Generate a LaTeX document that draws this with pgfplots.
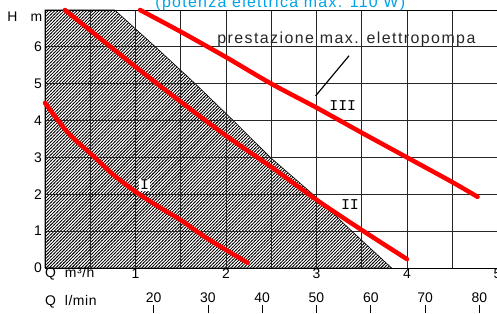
\documentclass[border=0pt]{standalone}
\usepackage{fontspec}
\setmainfont{Liberation Sans}
\newfontfamily\monofont{Liberation Mono}
\usepackage{pgfplots}
\pgfplotsset{compat=1.18}
\usetikzlibrary{patterns}
\pgfdeclarepatternformonly{dense ne lines}{\pgfqpoint{-1pt}{-1pt}}{\pgfqpoint{4.2pt}{4.2pt}}{\pgfqpoint{3.2pt}{3.2pt}}{%
  \pgfsetlinewidth{0.72pt}%
  \pgfpathmoveto{\pgfqpoint{-0.6pt}{-0.6pt}}%
  \pgfpathlineto{\pgfqpoint{3.8pt}{3.8pt}}%
  \pgfusepath{stroke}}
\definecolor{titleblue}{RGB}{0,162,232}
\definecolor{curvered}{RGB}{255,0,0}
\begin{document}
\begin{tikzpicture}
\begin{axis}[
  set layers,
  at={(0,0)}, anchor=south west,
  scale only axis, width=452.5bp, height=258bp,
  xmin=0, xmax=5, ymin=0, ymax=7,
  xtick={1,2,3,4,5}, ytick={0,1,2,3,4,5,6},
  minor xtick={0.5,1.5,2.5,3.5,4.5},
  grid=both,
  major grid style={black!85, line width=0.75pt},
  minor grid style={black!85, line width=0.75pt},
  major tick length=0pt, minor tick length=0pt,
  axis line style={black, line width=0.8pt},
  tick label style={font=\fontsize{14}{14}\selectfont},
  xticklabel style={inner sep=1pt, anchor=north},
  yticklabel style={inner sep=1pt, anchor=east, xshift=-2bp},
  /pgf/number format/assume math mode=true,
  clip=false,
]
% hatched zone (below the grid)
\addplot[on layer=axis background, draw=black, line width=0.6pt, pattern=dense ne lines, pattern color=black]
  coordinates {(0,0) (0,7) (0.77,7) (1.22,6) (1.66,5) (2.08,4) (2.49,3) (2.96,2) (3.39,1) (3.83,0) (0,0)};
% curve I
\addplot[curvered, line width=4.5bp, line cap=round, smooth]
  coordinates {(0,4.48) (0.25,3.68) (0.55,3.0) (0.75,2.54) (1,2.07) (1.25,1.67) (1.5,1.3) (1.75,0.87) (2,0.49) (2.24,0.14)};
% curve II
\addplot[curvered, line width=4.5bp, line cap=round, smooth]
  coordinates {(0.22,7) (1,5.46) (1.5,4.51) (2,3.59) (2.5,2.74) (3,1.85) (3.5,1.03) (4,0.24)};
% curve III
\addplot[curvered, line width=4.5bp, line cap=round, smooth]
  coordinates {(1.05,7) (1.5,6.41) (2,5.72) (2.5,5.0) (3,4.35) (3.5,3.67) (4,3.0) (4.5,2.33) (4.78,1.93)};
% leader line
\draw[black, line width=1.2bp] (axis cs:2.99,4.67) -- (axis cs:3.36,5.76);
% curve labels
\node[font=\monofont\fontsize{15}{15}\selectfont, fill=white, inner sep=1pt] at (axis cs:1.10,2.25) {I};
\node[font=\monofont\fontsize{15}{15}\selectfont, inner sep=1pt] at (axis cs:3.37,1.71) {II};
\node[font=\monofont\fontsize{15}{15}\selectfont, inner sep=1pt] at (axis cs:3.29,4.40) {III};
% annotation
\node[anchor=base, inner sep=0pt, text=black!85, font=\fontsize{16}{16}\selectfont\addfontfeature{LetterSpace=9}] at (axis cs:3.33,6.10) {prestazione max. elettropompa};
% title (partly cut off)
\node[anchor=base, inner sep=0pt, text=titleblue, font=\fontsize{16}{16}\selectfont\addfontfeature{LetterSpace=8}] at (axis cs:2.60,7.08) {(potenza elettrica max. 110 W)};
% axis names
\node[anchor=base, inner sep=0pt, font=\fontsize{14}{14}\selectfont] at (axis cs:-0.359,6.68) {H};
\node[anchor=base, inner sep=0pt, font=\fontsize{14}{14}\selectfont] at (axis cs:-0.094,6.68) {m};
\node[anchor=west, inner sep=0pt, font=\fontsize{14}{14}\selectfont\addfontfeature{LetterSpace=4}] at (axis cs:0,-0.16) {Q\ \ m³/h};
\node[anchor=west, inner sep=0pt, font=\fontsize{14}{14}\selectfont\addfontfeature{LetterSpace=4}] at (axis cs:0,-0.92) {Q\ \ l/min};
% secondary scale (l/min)
\node[inner sep=0pt, font=\fontsize{14}{14}\selectfont] at (axis cs:1.2,-0.81) {20};
\node[inner sep=0pt, font=\fontsize{14}{14}\selectfont] at (axis cs:1.8,-0.81) {30};
\node[inner sep=0pt, font=\fontsize{14}{14}\selectfont] at (axis cs:2.4,-0.81) {40};
\node[inner sep=0pt, font=\fontsize{14}{14}\selectfont] at (axis cs:3.0,-0.81) {50};
\node[inner sep=0pt, font=\fontsize{14}{14}\selectfont] at (axis cs:3.6,-0.81) {60};
\node[inner sep=0pt, font=\fontsize{14}{14}\selectfont] at (axis cs:4.2,-0.81) {70};
\node[inner sep=0pt, font=\fontsize{14}{14}\selectfont] at (axis cs:4.8,-0.81) {80};
\draw[black, line width=0.8bp] (axis cs:1.2,-1.0) -- (axis cs:1.2,-1.22);
\draw[black, line width=0.8bp] (axis cs:1.8,-1.0) -- (axis cs:1.8,-1.22);
\draw[black, line width=0.8bp] (axis cs:2.4,-1.0) -- (axis cs:2.4,-1.22);
\draw[black, line width=0.8bp] (axis cs:3.0,-1.0) -- (axis cs:3.0,-1.22);
\draw[black, line width=0.8bp] (axis cs:3.6,-1.0) -- (axis cs:3.6,-1.22);
\draw[black, line width=0.8bp] (axis cs:4.2,-1.0) -- (axis cs:4.2,-1.22);
\draw[black, line width=0.8bp] (axis cs:4.8,-1.0) -- (axis cs:4.8,-1.22);
\end{axis}
\pgfresetboundingbox
\path[use as bounding box] (-45bp,-46bp) rectangle (452bp,268bp);
\end{tikzpicture}
\end{document}
